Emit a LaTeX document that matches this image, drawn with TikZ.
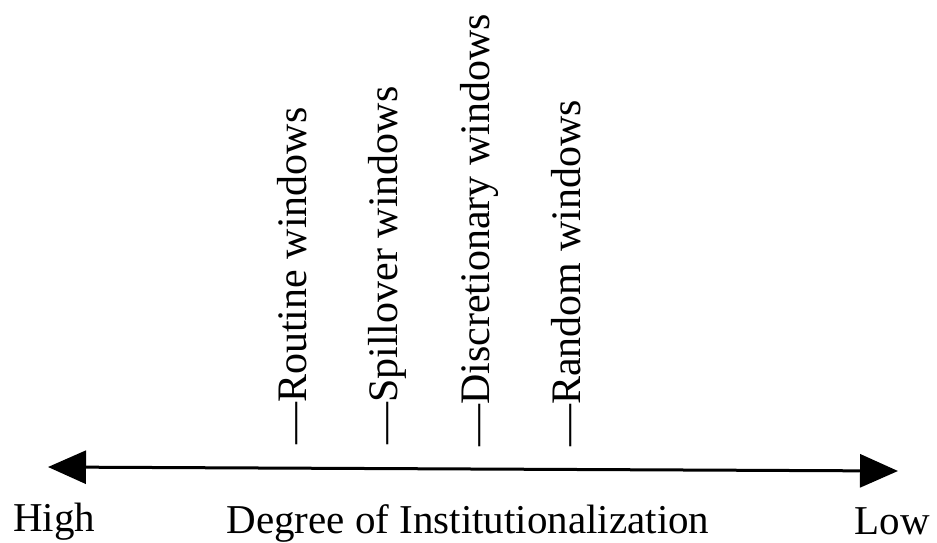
\documentclass[tikz,border=0pt]{standalone}
\usepackage{fontspec}
\setmainfont{Liberation Serif}
\usetikzlibrary{arrows.meta}
\begin{document}
\begin{tikzpicture}[x=1pt,y=-1pt,
  hlab/.style={inner sep=0pt,anchor=base west,font=\fontsize{41}{48}\selectfont},
  vlab/.style={inner sep=0pt,anchor=base west,rotate=90,font=\fontsize{42}{50}\selectfont},
  axis/.style={line width=3pt,{Triangle[length=38pt,width=33pt]}-{Triangle[length=38pt,width=33pt]}}]
\useasboundingbox (0,0) rectangle (937,542);
\coordinate (L) at (48,467);
\coordinate (R) at (898,471);
\draw[axis] (L) -- (R);
\node[vlab] (routine) at (306,445) {—Routine windows};
\node[vlab] (spill) at (397,445) {—Spillover windows};
\node[vlab] (disc) at (489,447) {—Discretionary windows};
\node[vlab] (rand) at (580,447) {—Random windows};
\node[hlab] (high) at (13,531) {High};
\node[hlab,anchor=base] (deg) at (468,533) {Degree of Institutionalization};
\node[hlab,anchor=base east] (low) at (930,534) {Low};
\end{tikzpicture}
\end{document}
